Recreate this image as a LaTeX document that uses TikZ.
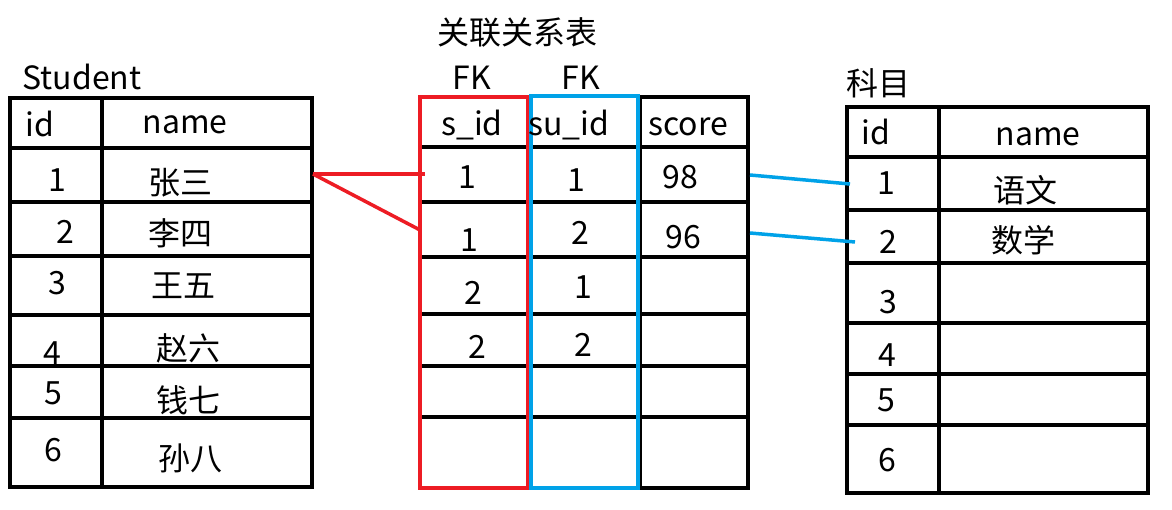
\documentclass[tikz,border=0pt]{standalone}
\usepackage{fontspec}
\setmainfont{Noto Sans CJK SC}
\definecolor{fkred}{HTML}{ED1C24}
\definecolor{fkblue}{HTML}{00A2E8}
\tikzset{
  tabline/.style={line width=3.5pt,black},
  redline/.style={line width=3.5pt,fkred},
  blueline/.style={line width=3.5pt,fkblue},
  cell/.style={font=\fontsize{32}{37}\selectfont,inner sep=0pt,anchor=center}
}

\begin{document}
\begin{tikzpicture}[x=1pt,y=-1pt]
\useasboundingbox[fill=white] (0,0) rectangle (1172,510);
\draw[tabline] (10,98) rectangle (312,487);
\draw[tabline] (102,98) -- (102,487);
\foreach \y in {148,202,256,315,366,418} \draw[tabline] (10,\y) -- (312,\y);
\node[cell] (stu_title) at (82,77) {Student};
\node[cell] (stu_id) at (40,124) {id};
\node[cell] (stu_name) at (185,125) {name};
\node[cell] (stu_i1) at (57,180) {1};
\node[cell] (stu_n1) at (180,183) {张三};
\node[cell] (stu_i2) at (65,232) {2};
\node[cell] (stu_n2) at (180,233) {李四};
\node[cell] (stu_i3) at (57,283) {3};
\node[cell] (stu_n3) at (183,286) {王五};
\node[cell] (stu_i4) at (52,353) {4};
\node[cell] (stu_n4) at (188,348) {赵六};
\node[cell] (stu_i5) at (53,393) {5};
\node[cell] (stu_n5) at (188,400) {钱七};
\node[cell] (stu_i6) at (53,450) {6};
\node[cell] (stu_n6) at (190,458) {孙八};
\draw[tabline] (640,97) rectangle (748,488);
\foreach \y in {147,202,257,314,366,417} \draw[tabline] (420,\y) -- (748,\y);
\draw[redline] (420,97) rectangle (528,488);
\draw[blueline] (531,96) rectangle (638,488);
\node[cell] (rel_title) at (517,32) {关联关系表};
\node[cell] (fk_s) at (472,78) {FK};
\node[cell] (fk_su) at (581,78) {FK};
\node[cell] (rel_sid) at (472,125) {s\_id};
\node[cell] (rel_suid) at (569,125) {su\_id};
\node[cell] (rel_score) at (688,127) {score};
\node[cell] (rel_s1) at (467,177) {1};
\node[cell] (rel_s2) at (469,240) {1};
\node[cell] (rel_s3) at (473,293) {2};
\node[cell] (rel_s4) at (477,347) {2};
\node[cell] (rel_u1) at (576,180) {1};
\node[cell] (rel_u2) at (580,233) {2};
\node[cell] (rel_u3) at (583,287) {1};
\node[cell] (rel_u4) at (583,345) {2};
\node[cell] (rel_c1) at (680,177) {98};
\node[cell] (rel_c2) at (683,237) {96};
\draw[tabline] (847,107) rectangle (1148,493);
\draw[tabline] (939,107) -- (939,493);
\foreach \y in {157,210,263,323,374,425} \draw[tabline] (847,\y) -- (1148,\y);
\node[cell] (sub_title) at (878,83) {科目};
\node[cell] (sub_id) at (876,132) {id};
\node[cell] (sub_name) at (1038,137) {name};
\node[cell] (sub_i1) at (886,183) {1};
\node[cell] (sub_n1) at (1025,190) {语文};
\node[cell] (sub_i2) at (888,242) {2};
\node[cell] (sub_n2) at (1023,240) {数学};
\node[cell] (sub_i3) at (888,302) {3};
\node[cell] (sub_i4) at (887,355) {4};
\node[cell] (sub_i5) at (886,400) {5};
\node[cell] (sub_i6) at (887,460) {6};
\coordinate (stu_pt) at (313,174);
\coordinate (sid_a) at (425,174);
\coordinate (sid_b) at (420,230);
\draw[redline] (stu_pt) -- (sid_a);
\draw[redline] (stu_pt) -- (sid_b);
\coordinate (score_a) at (750,175);
\coordinate (sub_a) at (850,184);
\coordinate (score_b) at (750,233);
\coordinate (sub_b) at (855,242);
\draw[blueline] (score_a) -- (sub_a);
\draw[blueline] (score_b) -- (sub_b);
\end{tikzpicture}
\end{document}
